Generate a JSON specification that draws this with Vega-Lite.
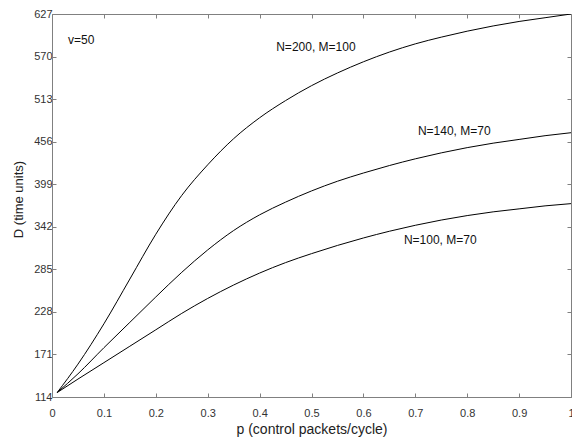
{
  "$schema": "https://vega.github.io/schema/vega-lite/v6.json",
  "width": 519,
  "height": 383,
  "autosize": "none",
  "padding": {"left": 52, "top": 14, "right": 1, "bottom": 41},
  "background": "white",
  "config": {
    "view": {"stroke": "#808080", "strokeWidth": 1},
    "font": "Liberation Sans",
    "axis": {"grid": false, "domainColor": "#808080", "tickColor": "#808080", "labelColor": "#333333", "titleColor": "#222222", "labelFont": "Liberation Sans", "titleFont": "Liberation Sans", "labelFontSize": 11, "titleFontSize": 12, "titleFontWeight": "normal"}
  },
  "datasets": {
    "curves": [
      {"p": 0.01, "D": 120, "s": "N=200, M=100"},
      {"p": 0.05, "D": 158, "s": "N=200, M=100"},
      {"p": 0.1, "D": 212, "s": "N=200, M=100"},
      {"p": 0.15, "D": 272, "s": "N=200, M=100"},
      {"p": 0.2, "D": 332, "s": "N=200, M=100"},
      {"p": 0.25, "D": 384, "s": "N=200, M=100"},
      {"p": 0.3, "D": 425, "s": "N=200, M=100"},
      {"p": 0.35, "D": 460, "s": "N=200, M=100"},
      {"p": 0.4, "D": 488, "s": "N=200, M=100"},
      {"p": 0.45, "D": 511, "s": "N=200, M=100"},
      {"p": 0.5, "D": 531, "s": "N=200, M=100"},
      {"p": 0.55, "D": 548, "s": "N=200, M=100"},
      {"p": 0.6, "D": 563, "s": "N=200, M=100"},
      {"p": 0.65, "D": 576, "s": "N=200, M=100"},
      {"p": 0.7, "D": 587, "s": "N=200, M=100"},
      {"p": 0.75, "D": 596, "s": "N=200, M=100"},
      {"p": 0.8, "D": 604, "s": "N=200, M=100"},
      {"p": 0.85, "D": 611, "s": "N=200, M=100"},
      {"p": 0.9, "D": 617, "s": "N=200, M=100"},
      {"p": 0.95, "D": 622, "s": "N=200, M=100"},
      {"p": 1.0, "D": 627, "s": "N=200, M=100"},
      {"p": 0.01, "D": 120, "s": "N=140, M=70"},
      {"p": 0.05, "D": 145, "s": "N=140, M=70"},
      {"p": 0.1, "D": 180, "s": "N=140, M=70"},
      {"p": 0.15, "D": 214, "s": "N=140, M=70"},
      {"p": 0.2, "D": 248, "s": "N=140, M=70"},
      {"p": 0.25, "D": 281, "s": "N=140, M=70"},
      {"p": 0.3, "D": 311, "s": "N=140, M=70"},
      {"p": 0.35, "D": 337, "s": "N=140, M=70"},
      {"p": 0.4, "D": 358, "s": "N=140, M=70"},
      {"p": 0.45, "D": 375, "s": "N=140, M=70"},
      {"p": 0.5, "D": 390, "s": "N=140, M=70"},
      {"p": 0.55, "D": 403, "s": "N=140, M=70"},
      {"p": 0.6, "D": 414, "s": "N=140, M=70"},
      {"p": 0.65, "D": 424, "s": "N=140, M=70"},
      {"p": 0.7, "D": 433, "s": "N=140, M=70"},
      {"p": 0.75, "D": 441, "s": "N=140, M=70"},
      {"p": 0.8, "D": 448, "s": "N=140, M=70"},
      {"p": 0.85, "D": 454, "s": "N=140, M=70"},
      {"p": 0.9, "D": 459, "s": "N=140, M=70"},
      {"p": 0.95, "D": 464, "s": "N=140, M=70"},
      {"p": 1.0, "D": 468, "s": "N=140, M=70"},
      {"p": 0.01, "D": 120, "s": "N=100, M=70"},
      {"p": 0.05, "D": 138, "s": "N=100, M=70"},
      {"p": 0.1, "D": 160, "s": "N=100, M=70"},
      {"p": 0.15, "D": 182, "s": "N=100, M=70"},
      {"p": 0.2, "D": 204, "s": "N=100, M=70"},
      {"p": 0.25, "D": 226, "s": "N=100, M=70"},
      {"p": 0.3, "D": 246, "s": "N=100, M=70"},
      {"p": 0.35, "D": 264, "s": "N=100, M=70"},
      {"p": 0.4, "D": 280, "s": "N=100, M=70"},
      {"p": 0.45, "D": 294, "s": "N=100, M=70"},
      {"p": 0.5, "D": 306, "s": "N=100, M=70"},
      {"p": 0.55, "D": 317, "s": "N=100, M=70"},
      {"p": 0.6, "D": 327, "s": "N=100, M=70"},
      {"p": 0.65, "D": 336, "s": "N=100, M=70"},
      {"p": 0.7, "D": 344, "s": "N=100, M=70"},
      {"p": 0.75, "D": 351, "s": "N=100, M=70"},
      {"p": 0.8, "D": 357, "s": "N=100, M=70"},
      {"p": 0.85, "D": 362, "s": "N=100, M=70"},
      {"p": 0.9, "D": 366, "s": "N=100, M=70"},
      {"p": 0.95, "D": 370, "s": "N=100, M=70"},
      {"p": 1.0, "D": 373, "s": "N=100, M=70"}
    ],
    "labels": [
      {"p": 0.031, "D": 592, "t": "v=50"},
      {"p": 0.432, "D": 583, "t": "N=200, M=100"},
      {"p": 0.705, "D": 470, "t": "N=140, M=70"},
      {"p": 0.678, "D": 324, "t": "N=100, M=70"}
    ]
  },
  "layer": [
    {
      "data": {"name": "curves"},
      "mark": {"type": "line", "color": "black", "strokeWidth": 1, "interpolate": "monotone", "clip": true},
      "encoding": {
        "x": {"field": "p", "type": "quantitative", "scale": {"domain": [0, 1], "nice": false, "zero": false},
          "axis": {"title": "p (control packets/cycle)", "titleFontSize": 14, "values": [0, 0.1, 0.2, 0.3, 0.4, 0.5, 0.6, 0.7, 0.8, 0.9, 1], "format": "~g", "tickSize": -4, "labelPadding": 14, "titlePadding": 4, "labelFlush": false, "labelOverlap": false}},
        "y": {"field": "D", "type": "quantitative", "scale": {"domain": [114, 627], "nice": false, "zero": false},
          "axis": {"title": "D (time units)", "titleFontSize": 13, "titleY": 185, "values": [114, 171, 228, 285, 342, 399, 456, 513, 570, 627], "tickSize": -4, "labelPadding": 4, "titlePadding": 8, "labelFlush": false, "labelOverlap": false}},
        "detail": {"field": "s", "type": "nominal"}
      }
    },
    {
      "data": {"name": "labels"},
      "mark": {"type": "text", "align": "left", "baseline": "middle", "fontSize": 12, "font": "Liberation Sans", "color": "#111111"},
      "encoding": {
        "x": {"field": "p", "type": "quantitative", "axis": {"orient": "top", "title": null, "labels": false, "values": [0.1, 0.2, 0.3, 0.4, 0.5, 0.6, 0.7, 0.8, 0.9], "tickSize": -4}},
        "y": {"field": "D", "type": "quantitative", "axis": {"orient": "right", "title": null, "labels": false, "values": [171, 228, 285, 342, 399, 456, 513, 570], "tickSize": -4}},
        "text": {"field": "t", "type": "nominal"}
      }
    }
  ],
  "resolve": {"axis": {"x": "independent", "y": "independent"}}
}
